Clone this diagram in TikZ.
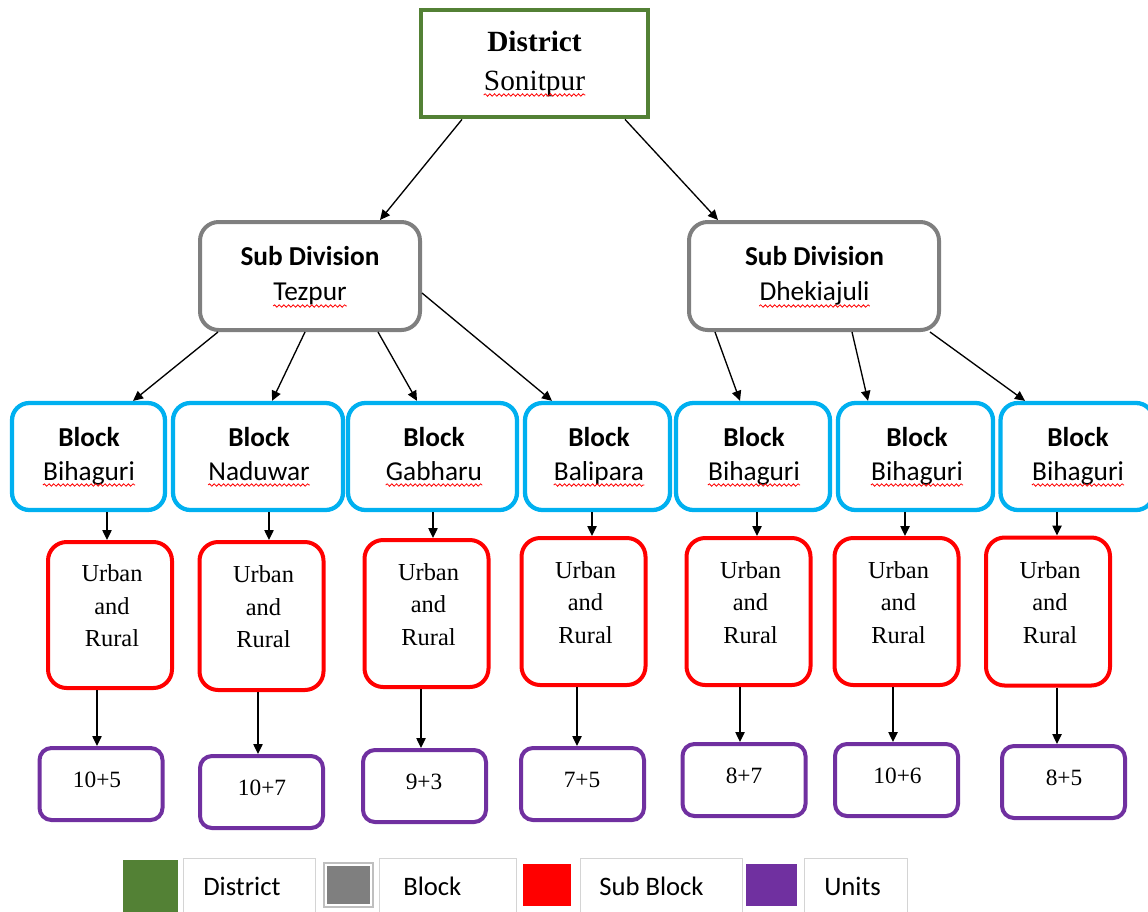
\documentclass[tikz,border=0pt]{standalone}
\usepackage{fontspec}
\setmainfont{Liberation Serif}
\newfontfamily\calfont{Carlito}
\usetikzlibrary{arrows.meta,decorations.pathmorphing}
\newcommand\pxu{0.75pt}
\definecolor{dgreen}{HTML}{538135}
\definecolor{sgray}{HTML}{7F7F7F}
\definecolor{scyan}{HTML}{00B0F0}
\definecolor{sred}{HTML}{FF0000}
\definecolor{spurple}{HTML}{7030A0}
\definecolor{lgray}{HTML}{D4D4D4}
\definecolor{mgray}{HTML}{BFBFBF}
\begin{document}
\begin{tikzpicture}[x=0.75pt,y=-0.75pt,
  arr/.style={-{Triangle[length=7.5pt,width=7pt]}, line width=1pt},
  distbox/.style={draw=dgreen, line width=3.6pt},
  subbox/.style={draw=sgray, line width=3pt, rounded corners=14pt},
  blockbox/.style={draw=scyan, line width=3.2pt, rounded corners=13pt},
  urbox/.style={draw=sred, line width=3pt, rounded corners=14pt},
  unitbox/.style={draw=spurple, line width=3pt, rounded corners=9pt},
  distT/.style={font=\fontsize{22}{26}\selectfont\bfseries, inner sep=0, anchor=base},
  distN/.style={font=\fontsize{22}{26}\selectfont, inner sep=0, anchor=base},
  calT/.style={font=\calfont\bfseries\fontsize{20.5}{24}\selectfont, inner sep=0, anchor=base},
  calN/.style={font=\calfont\fontsize{20.5}{24}\selectfont, inner sep=0, anchor=base},
  urT/.style={font=\fontsize{18.3}{24.4}\selectfont, align=center, inner sep=0},
  unT/.style={font=\fontsize{17.5}{21}\selectfont, inner sep=0, anchor=base},
  legT/.style={font=\calfont\fontsize{20}{24}\selectfont, inner sep=0, anchor=base west},
  wavy/.style={draw=sred, line width=0.6pt, decorate, decoration={snake, amplitude=0.9pt, segment length=3.5pt}}
]
\useasboundingbox (0,0) rectangle (1148,911);

% District
\node[distbox, minimum width=227*\pxu, minimum height=107*\pxu] (dist) at (534.5,63.5) {};
\node[distT] (distA) at (534.5,51) {District};
\node[distN] (distB) at (534.5,90) {Sonitpur};
\draw[wavy] ([yshift=-5*\pxu]distB.base west) -- ([yshift=-5*\pxu]distB.base east);

% Sub divisions
\node[subbox, minimum width=220*\pxu, minimum height=108*\pxu] (tez) at (310,276) {};
\node[calT] (tezA) at (310,265) {Sub Division};
\node[calN] (tezB) at (310,300) {Tezpur};
\draw[wavy] ([yshift=-6*\pxu]tezB.base west) -- ([yshift=-6*\pxu]tezB.base east);

\node[subbox, minimum width=250*\pxu, minimum height=108*\pxu] (dhe) at (814,276) {};
\node[calT] (dheA) at (814.5,265) {Sub Division};
\node[calN] (dheB) at (814.5,300) {Dhekiajuli};
\draw[wavy] ([yshift=-6*\pxu]dheB.base west) -- ([yshift=-6*\pxu]dheB.base east);

% Blocks
\foreach \i/\x/\w/\tx/\nm in {1/88.5/153/89/Bihaguri, 2/258/170/259/Naduwar, 3/432.5/169/434/Gabharu, 4/597.5/145/599/Balipara, 5/753/154/754/Bihaguri, 6/915.5/155/917/Bihaguri, 7/1077/153/1078/Bihaguri}{
  \node[blockbox, minimum width=\w*\pxu, minimum height=107*\pxu] (b\i) at (\x,456.5) {};
  \node[calT] (bt\i) at (\tx,446) {Block};
  \node[calN] (bn\i) at (\tx,480) {\nm};
  \draw[wavy] ([yshift=-5*\pxu]bn\i.base west) -- ([yshift=-5*\pxu]bn\i.base east);
}

% Urban and Rural
\foreach \i/\x/\y/\h in {1/110/615/146, 2/261.5/616/148, 3/426.5/613.5/147, 4/583.5/611.5/147, 5/748.5/611.5/147, 6/896.5/611.5/147, 7/1048/611.5/148}{
  \node[urbox, minimum width=124*\pxu, minimum height=\h*\pxu] (r\i) at (\x,\y) {};
  \node[urT] (rt\i) at (\x+2,\y-9) {Urban\\and\\Rural};
}

% Units
\foreach \i/\x/\y/\tx/\t in {1/101/784/97/10+5, 2/261.5/792/262/10+7, 3/424.5/786/424/9+3, 4/582.5/784/582/7+5, 5/744/780/744/8+7, 6/896.5/780/897.5/10+6, 7/1063.5/782/1064/8+5}{
  \node[unitbox, minimum width=123*\pxu, minimum height=72*\pxu] (u\i) at (\x,\y) {};
  \node[unT] (ut\i) at (\tx,\y+3) {\t};
}

% Arrows
\draw[arr] ([xshift=-72.5*\pxu]dist.south) -- ([xshift=70*\pxu]tez.north);
\draw[arr] ([xshift=90.5*\pxu]dist.south) -- ([xshift=-96*\pxu]dhe.north);

\draw[arr] ([xshift=-92*\pxu]tez.south) -- ([xshift=44.5*\pxu]b1.north);
\draw[arr] ([xshift=-5*\pxu]tez.south) -- ([xshift=14*\pxu]b2.north);
\draw[arr] ([xshift=68*\pxu]tez.south) -- ([xshift=-15.5*\pxu]b3.north);
\draw[arr] ([yshift=-17*\pxu]tez.east) -- ([xshift=-45.5*\pxu]b4.north);

\draw[arr] ([xshift=-99*\pxu]dhe.south) -- ([xshift=-13*\pxu]b5.north);
\draw[arr] ([xshift=38*\pxu]dhe.south) -- ([xshift=-47.5*\pxu]b6.north);
\draw[arr] ([xshift=116*\pxu]dhe.south) -- ([xshift=-52*\pxu]b7.north);

\foreach \i/\d in {1/-3, 2/7.5, 3/6.5, 4/8.5, 5/8.5, 6/8.5, 7/9}{
  \draw[arr] ([xshift=\d*\pxu]r\i.north |- b\i.south) -- ([xshift=\d*\pxu]r\i.north);
}
\foreach \i/\d in {1/-4, 2/-3.5, 3/-3.5, 4/-5.5, 5/-4, 6/-3.5, 7/-6.5}{
  \draw[arr] ([xshift=\d*\pxu]u\i.north |- r\i.south) -- ([xshift=\d*\pxu]u\i.north);
}

% Legend
\node[fill=dgreen, inner sep=0, minimum width=55*\pxu, minimum height=52*\pxu] (lsq1) at (150.5,886) {};
\node[draw=lgray, line width=0.75pt, inner sep=0, minimum width=132*\pxu, minimum height=56*\pxu] (lbx1) at (249,886) {};
\node[legT] (lt1) at (203,895.5) {District};

\node[draw=mgray, line width=0.9pt, inner sep=0, minimum width=49*\pxu, minimum height=44*\pxu] (lsq2o) at (348.5,885) {};
\node[fill=sgray, inner sep=0, minimum width=43*\pxu, minimum height=38*\pxu] (lsq2) at (348.5,885) {};
\node[draw=lgray, line width=0.75pt, inner sep=0, minimum width=137*\pxu, minimum height=56*\pxu] (lbx2) at (447.5,886) {};
\node[legT] (lt2) at (403,895.5) {Block};

\node[fill=sred, inner sep=0, minimum width=48*\pxu, minimum height=42*\pxu] (lsq3) at (547,885) {};
\node[draw=lgray, line width=0.75pt, inner sep=0, minimum width=162*\pxu, minimum height=56*\pxu] (lbx3) at (661,886) {};
\node[legT] (lt3) at (599,895.5) {Sub Block};

\node[fill=spurple, inner sep=0, minimum width=51*\pxu, minimum height=42*\pxu] (lsq4) at (771.5,885) {};
\node[draw=lgray, line width=0.75pt, inner sep=0, minimum width=103*\pxu, minimum height=56*\pxu] (lbx4) at (855.5,886) {};
\node[legT] (lt4) at (824,895.5) {Units};
\end{tikzpicture}
\end{document}
